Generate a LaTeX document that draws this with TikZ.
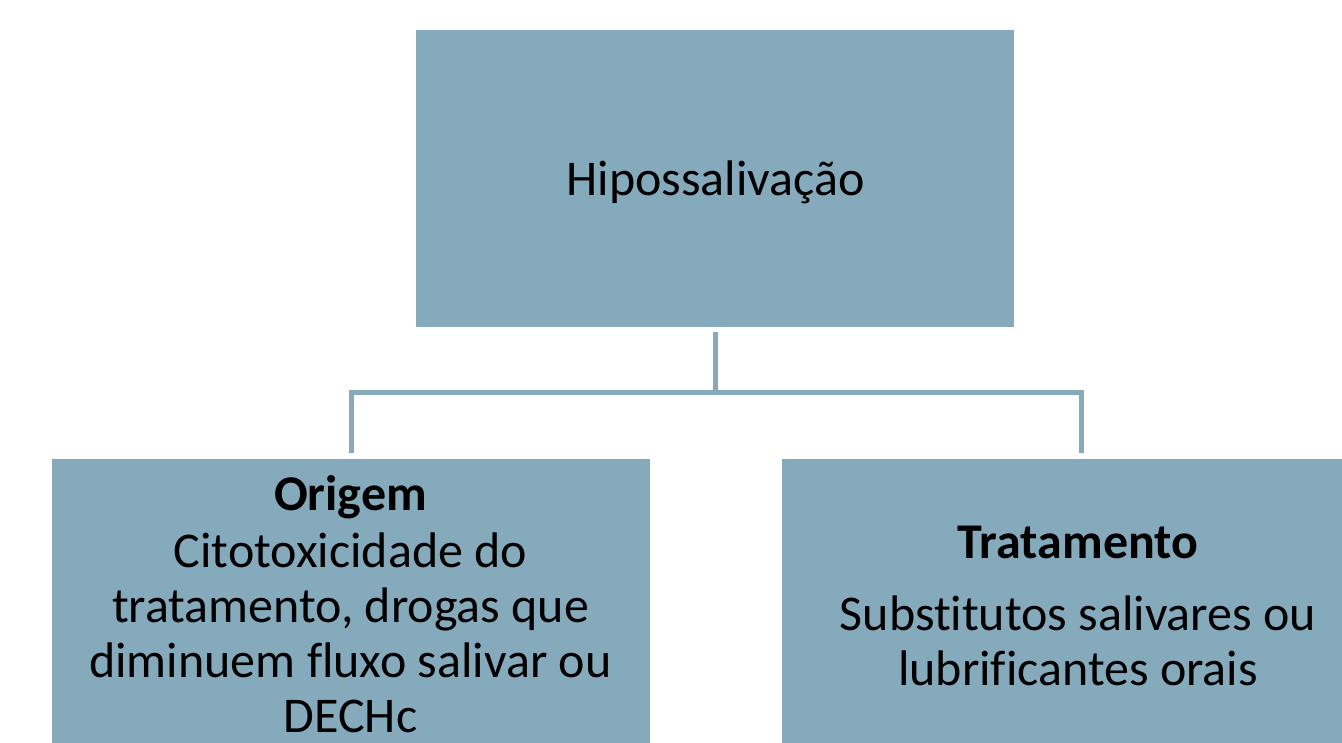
\documentclass[tikz,border=0pt]{standalone}
\usepackage{fontspec}
\setmainfont{Carlito}[Ligatures={NoCommon}]
\definecolor{boxblue}{RGB}{133,170,187}
\begin{document}
\begin{tikzpicture}[x=1pt,y=-1pt,
  box/.style={fill=boxblue,draw=none,inner sep=0pt,anchor=north west,minimum width=598pt},
  conn/.style={draw=boxblue,line width=5pt},
  txt/.style={anchor=base,inner sep=0pt,text=black,font=\fontsize{50}{55}\selectfont},
  btxt/.style={txt,font=\fontsize{50}{55}\selectfont\bfseries}]
\useasboundingbox (0,0) rectangle (1342,743);
\clip (0,0) rectangle (1342,743);
\fill[white] (0,0) rectangle (1342,743);
\node[box,minimum height=297pt] (top) at (416,30) {};
\node[box,minimum height=330pt] (left) at (52,459) {};
\node[box,minimum height=330pt] (right) at (782,459) {};
\draw[conn] ([yshift=-5pt]top.south) -- ++(0,-60pt) coordinate (mid) -| ([yshift=6pt]left.north);
\draw[conn] (mid) -| ([yshift=6pt]right.north);
\node[txt] (t0) at (715.5,196) {Hipossalivação};
\node[btxt] (t1) at (350.5,510) {Origem};
\node[txt] (t2) at (350.5,567) {Citotoxicidade do};
\node[txt] (t3) at (350.5,622) {tratamento, drogas que};
\node[txt] (t4) at (350.5,677) {diminuem fluxo salivar ou};
\node[txt] (t5) at (350.5,732) {DECHc};
\node[btxt] (r1) at (1078,558) {Tratamento};
\node[txt] (r2) at (1078,630) {Substitutos salivares ou};
\node[txt] (r3) at (1078,685) {lubrificantes orais};
\end{tikzpicture}
\end{document}
